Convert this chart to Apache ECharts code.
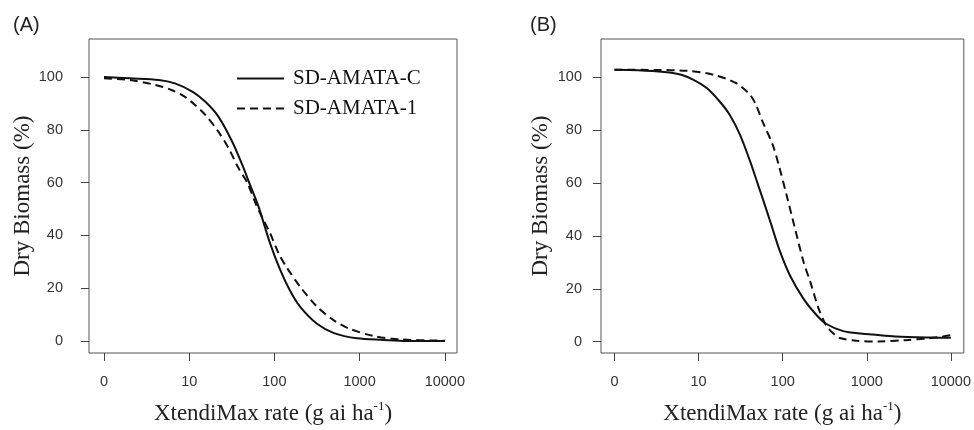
<!DOCTYPE html>
<html>
<head>
<meta charset="utf-8">
<script src="https://cdn.jsdelivr.net/npm/echarts@6/dist/echarts.min.js"></script>
<style>
  html, body { margin: 0; padding: 0; background: #fff; }
  #main { width: 974px; height: 430px; }
</style>
</head>
<body>
<div id="main"></div>
<script>
// XtendiMax rate in g ai/ha; the untreated control (0) is drawn at 1, like drc does
const xTickRates = [1, 10, 100, 1000, 10000];
const xTickLabels = ['0', '10', '100', '1000', '10000'];
const yTicks = [0, 20, 40, 60, 80, 100];

// (A) SD-AMATA-C
const rateAC = [1, 2, 4.4, 6.8, 11, 15.5, 22, 32, 42, 51, 65, 71, 89, 117, 151, 200, 316, 500, 930, 1900, 3550, 10000];
const bioAC = [100, 99.5, 98.9, 97.6, 94.4, 90.6, 85, 75.5, 66.7, 59.7, 51, 47.1, 37, 26.9, 19.3, 13, 6.5, 3, 1, 0.4, 0, 0];
// (A) SD-AMATA-1
const rateA1 = [1, 2, 4, 6.2, 8.9, 11.7, 15.5, 22, 29, 38, 48, 59, 68, 89, 112, 138, 200, 316, 490, 740, 1450, 2950, 10000];
const bioA1 = [99.5, 98.9, 97, 95.1, 92.5, 89.4, 85.6, 79.3, 73, 65.4, 60, 52.8, 48.4, 40.8, 33.2, 28.1, 20.6, 13, 8, 4.8, 1.9, 0.6, 0.1];
// (B) SD-AMATA-C
const rateBC = [1, 1.9, 3.9, 6.2, 8.7, 12.6, 17.8, 23.4, 31, 41, 50, 57.5, 72, 91, 123, 178, 257, 331, 525, 890, 1175, 2190, 5500, 10000];
const bioBC = [102.7, 102.5, 101.8, 100.8, 98.9, 95.7, 90.7, 85.7, 78.2, 68.1, 60, 54.3, 44.9, 34.9, 24.8, 16.1, 9.8, 6.7, 4.0, 3.0, 2.7, 2.0, 1.6, 1.5];
// (B) SD-AMATA-1
const rateB1 = [1, 3, 7.2, 15, 28, 41, 48, 57.5, 76, 91, 112, 141, 178, 214, 269, 331, 398, 479, 759, 1410, 2880, 5500, 7760, 10230];
const bioB1 = [102.7, 102.6, 102.3, 100.8, 97.6, 93.2, 89.5, 83.2, 74.4, 66, 55, 42.4, 29.9, 22.4, 12.3, 6, 3.2, 1.4, 0.4, 0.1, 0.6, 1.3, 1.9, 2.5];

const toPoints = (rates, vals) => rates.map((r, i) => [Math.log10(r), vals[i]]);
const xTickPos = xTickRates.map(r => Math.log10(r));

const chart = echarts.init(document.getElementById('main'));

const serif = '"Liberation Serif", "Times New Roman", serif';
const sans = '"Liberation Sans", Arial, sans-serif';

function makeX(gridIndex, min, max) {
  return {
    type: 'value', gridIndex: gridIndex, min: min, max: max,
    axisLine: { show: false, onZero: false },
    axisTick: { show: true, length: 8, customValues: xTickPos, lineStyle: { color: '#444', width: 1 } },
    axisLabel: {
      customValues: xTickPos, margin: 21, fontSize: 14.5, fontFamily: sans, color: '#333',
      formatter: v => xTickLabels[xTickPos.findIndex(p => Math.abs(p - v) < 1e-6)]
    },
    splitLine: { show: false },
    name: '{n|XtendiMax rate (g ai ha}{s|-1}{n|)}',
    nameLocation: 'middle', nameGap: 47,
    nameTextStyle: {
      rich: {
        n: { fontFamily: serif, fontSize: 23, color: '#222', lineHeight: 27 },
        s: { fontFamily: serif, fontSize: 13, color: '#222', verticalAlign: 'top', lineHeight: 15 }
      }
    }
  };
}

function makeY(gridIndex, min, max, labelMargin, nameGap) {
  return {
    type: 'value', gridIndex: gridIndex, min: min, max: max,
    axisLine: { show: false, onZero: false },
    axisTick: { show: true, length: 8, customValues: yTicks, lineStyle: { color: '#444', width: 1 } },
    axisLabel: { customValues: yTicks, margin: labelMargin, fontSize: 14.5, fontFamily: sans, color: '#333' },
    splitLine: { show: false },
    name: 'Dry Biomass (%)',
    nameLocation: 'middle', nameGap: nameGap,
    nameTextStyle: { fontFamily: serif, fontSize: 23, color: '#222' }
  };
}

function line(name, idx, data, dashed) {
  return {
    name: name, type: 'line', xAxisIndex: idx, yAxisIndex: idx,
    data: data, showSymbol: false, symbol: 'none', smooth: 0.3,
    lineStyle: { color: '#111', width: 2, type: dashed ? [8, 5] : 'solid' },
    itemStyle: { color: '#111' },
    silent: true
  };
}

const option = {
  backgroundColor: '#fff',
  animation: false,
  title: [
    { text: '(A)', left: 13, top: 15, padding: 0, textStyle: { fontFamily: sans, fontSize: 20, fontWeight: 'normal', color: '#222' } },
    { text: '(B)', left: 530, top: 15, padding: 0, textStyle: { fontFamily: sans, fontSize: 20, fontWeight: 'normal', color: '#222' } }
  ],
  legend: {
    data: ['SD-AMATA-C', 'SD-AMATA-1'],
    orient: 'vertical', left: 236, top: 68, padding: 0,
    itemWidth: 47, itemHeight: 21, itemGap: 9,
    itemStyle: { opacity: 0 },
    lineStyle: { opacity: 1 },
    textStyle: { fontFamily: serif, fontSize: 21, color: '#111', padding: [0, 0, 0, 4], lineHeight: 21 },
    selectedMode: false
  },
  grid: [
    { left: 89, top: 39, width: 368, height: 314, show: true, borderColor: '#555', borderWidth: 1 },
    { left: 601, top: 39, width: 368, height: 315, show: true, borderColor: '#555', borderWidth: 1 }
  ],
  xAxis: [makeX(0, -0.176, 4.143), makeX(1, -0.161, 4.154)],
  yAxis: [makeY(0, -4.55, 114.4, 26, 52), makeY(1, -4.25, 114.3, 19, 49)],
  series: [
    line('SD-AMATA-C', 0, toPoints(rateAC, bioAC), false),
    line('SD-AMATA-1', 0, toPoints(rateA1, bioA1), true),
    line('SD-AMATA-C', 1, toPoints(rateBC, bioBC), false),
    line('SD-AMATA-1', 1, toPoints(rateB1, bioB1), true)
  ]
};

chart.setOption(option);
</script>
</body>
</html>
